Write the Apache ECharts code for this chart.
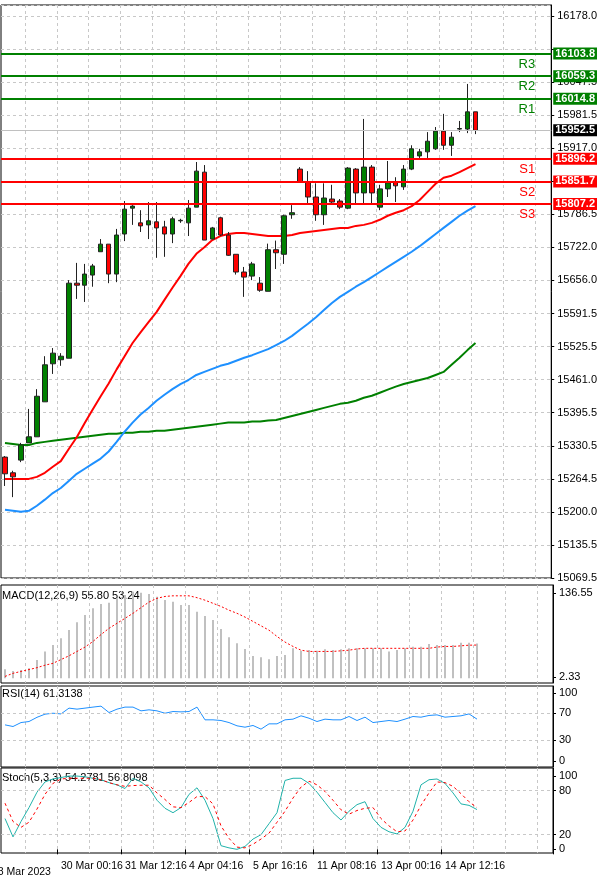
<!DOCTYPE html>
<html><head><meta charset="utf-8">
<script src="https://cdn.jsdelivr.net/npm/echarts@6/dist/echarts.min.js"></script>
<style>html,body{margin:0;padding:0;background:#fff}#c{width:600px;height:884px}</style>
</head><body><div id="c"></div>
<script>
// [open, close, low, high]
const candles = [
[15308,15275,15251,15310],[15277,15269,15229,15281],[15302,15332,15298,15336],[15336,15348,15336,15403],
[15348,15428,15348,15442],[15417,15490,15417,15507],[15492,15513,15472,15523],[15500,15507,15488,15513],
[15503,15651,15503,15657],[15651,15647,15620,15691],[15647,15669,15614,15689],[15667,15685,15644,15689],
[15713,15728,15713,15738],[15728,15669,15651,15728],[15669,15746,15653,15758],[15748,15797,15734,15813],
[15799,15803,15766,15805],[15770,15764,15752,15795],[15766,15774,15738,15811],[15772,15760,15701,15811],
[15762,15748,15703,15774],[15748,15778,15730,15782],[15774,15775,15770,15778],[15770,15799,15744,15815],
[15801,15872,15801,15890],[15870,15736,15736,15884],[15738,15760,15738,15762],[15780,15746,15744,15782],
[15746,15706,15705,15752],[15708,15673,15668,15708],[15673,15663,15624,15683],[15665,15689,15657,15693],
[15651,15637,15634,15663],[15635,15717,15635,15729],[15717,15711,15679,15735],[15708,15784,15689,15786],
[15786,15790,15778,15805],[15876,15851,15851,15880],[15851,15821,15807,15872],[15821,15786,15774,15848],
[15786,15819,15766,15848],[15817,15811,15807,15845],[15813,15801,15797,15817],[15799,15878,15797,15880],
[15876,15829,15809,15878],[15829,15880,15809,15975],[15880,15829,15809,15884],[15801,15837,15795,15845],
[15837,15849,15821,15892],[15851,15843,15811,15860],[15841,15876,15835,15884],[15876,15916,15874,15923],
[15902,15910,15898,15916],[15910,15931,15898,15949],[15916,15951,15914,15959],[15951,15923,15914,15985],
[15923,15939,15902,15949],[15955,15956,15949,15971],[15955,15989,15947,16044],[15989,15952.5,15945,15989]
];
const maRed = [15265,15265,15265,15265,15269,15277,15289,15300,15324,15347,
15375,15402,15428,15453,15481,15507,15533,15554,15574,15594,
15618,15642,15665,15689,15709,15722,15736,15744,15748,15750,
15750,15748,15746,15744,15744,15744,15746,15750,15752,15754,
15756,15758,15760,15760,15764,15766,15770,15776,15784,15790,
15795,15803,15815,15831,15847,15859,15863,15870,15878,15886];
const maBlue = [15204,15202,15200,15202,15212,15224,15237,15247,15261,15275,
15285,15295,15305,15319,15338,15358,15376,15392,15405,15419,
15431,15442,15452,15460,15470,15476,15482,15488,15492,15498,
15504,15509,15515,15521,15529,15537,15547,15559,15571,15584,
15598,15612,15624,15634,15644,15653,15663,15673,15683,15693,
15703,15713,15724,15736,15748,15760,15772,15784,15794,15803];
const maGreen = [15336,15334,15332,15332,15336,15338,15340,15342,15344,15346,
15348,15350,15352,15354,15354,15356,15356,15358,15358,15360,
15360,15362,15364,15366,15368,15370,15372,15374,15376,15376,
15376,15378,15378,15380,15381,15385,15389,15393,15397,15401,
15405,15409,15413,15415,15419,15425,15429,15435,15441,15447,
15452,15456,15460,15464,15470,15476,15490,15504,15519,15533];
const macdHist = [14.6,11.9,13.5,16.2,29.5,42.8,53.5,64.2,77.4,89.7,
101.4,112.1,119,121.1,128,133.4,138.6,137,135,130.6,
125.4,122.7,117.4,117.4,106.7,99.8,93.4,79,65.8,56.2,
47.1,35.9,33.8,30.6,35.9,37.5,48.2,44.3,45.5,44.3,
46.6,45.5,46.6,48.2,48.2,48.2,48.2,48.2,42.8,45.5,
48.2,50.7,50.7,55,53.5,53.5,53.5,57.1,57.1,55.8];
const macdSignal = [3,8,11,14,17,21,24,30,36,43,
50,59,70,80,88,96,104,113,122,128,
131,132,132,132,129,125,120,115,109,104,
98,91,84,77,67,58,51,45,43,43,
43,43,44,45,47,48,48,48,48,48,
48,48,48,48,50,51,51,52,53,53.24];
const rsi = [52.9,50.5,56.3,57.8,64,68.6,70,69,77.5,76,
77.5,79,80.4,71,76,79,79,73.5,75,73.5,
70,72.5,72,72.5,79,60.3,60.3,59.3,56.3,51.5,
49.5,52,46.6,54.4,54.4,60.3,61.3,66.2,62.7,57.8,
61.3,60.3,60.3,65.2,59.3,64.2,56.3,57.8,59.3,57.8,
61.3,65.2,64.2,66.7,67.6,64.2,65.2,66.2,69,61.3138];
const stochK = [42,17,38,57,78,92,96,98,100,100,
99,97,95,91,88,83,97,92,84,67,
56,50,57,75,84,67,42,5,2,0,
4,14,20,35,50,94,97,97,90,78,
64,50,40,52,61,65,42,30,24,21,
30,52,88,95,96,90,77,62,60,54.2781];
const stochD = [63,38,30,37,55,75,90,96,97,97,
97,97,95,91,88,86,87,87.5,87.5,77,
68,58,57,64,72,72,62,32,15,3,
2,7,14,22,37,52,70,85,93,88,
79,67,54,48,53,56,57,42,32,24,
25,40,60,77,92,91,86,76,65,56.8098];
const yLabels = [16178.0,16112.5,16047.5,15981.5,15917.0,15851.5,15786.5,15722.0,15656.0,15591.5,15525.5,15461.0,15395.5,15330.5,15264.5,15200.0,15135.5,15069.5];
const hiddenY = [16112.5,15851.5];
const resLevels = [['R3',16103.8],['R2',16059.3],['R1',16014.8]];
const supLevels = [['S1',15896.2],['S2',15851.7],['S3',15807.2]];
const lastPrice = 15952.5;
const xLabelIdx = [7,15,23,31,39,47,55];
const xLabels = ['30 Mar 00:16','31 Mar 12:16','4 Apr 04:16','5 Apr 16:16','11 Apr 08:16','13 Apr 00:16','14 Apr 12:16'];
const firstDate = '28 Mar 2023';
const slots = 69;

const cats = Array.from({length: slots}, (_, i) => String(i));
const F = 'Liberation Sans';
const grids = [
  {left:1, width:552, top:5, height:573},
  {left:1, width:552, top:585, height:98},
  {left:1, width:552, top:686, height:81},
  {left:1, width:552, top:768, height:85}
].map(g => Object.assign(g, {show:true, borderColor:'#000', borderWidth:1}));
const vSplit = {show:true, interval:(i)=>i%4===3, lineStyle:{color:'#c8c8c8', type:[3,3]}};
const xAxes = grids.map((g, k) => ({
  type:'category', gridIndex:k, data:cats, boundaryGap:true,
  axisLine:{show:false}, splitLine:vSplit,
  axisTick:{show:k===3, interval:(i)=>xLabelIdx.includes(i), length:5, lineStyle:{color:'#000'}},
  axisLabel:{show:k===3, interval:0, hideOverlap:false,
    formatter:(v)=>{const j=xLabelIdx.indexOf(Number(v)); return j<0?'':xLabels[j];},
    align:'left', fontFamily:F, fontSize:10.5, color:'#000', margin:8}
}));
const yMain = {
  type:'value', gridIndex:0, position:'right', min:15069.5, max:15069.5+573*1.9724, interval:(16178-15069.5)/17,
  axisLine:{show:true, lineStyle:{color:'#000'}}, axisTick:{show:true, length:3},
  splitLine:{show:true, lineStyle:{color:'#c8c8c8', type:[3,3]}},
  axisLabel:{showMaxLabel:false, fontFamily:F, fontSize:11, color:'#000', margin:6,
    formatter:(v)=>{let b=yLabels.reduce((a,c)=>Math.abs(c-v)<Math.abs(a-v)?c:a); if(Math.abs(b-v)>20||hiddenY.includes(b))return ''; return b.toFixed(1);}}
};
function subY(k, min, max, vals, fmt){
  return {type:'value', gridIndex:k, position:'right', min, max,
    axisLine:{show:true, lineStyle:{color:'#000'}}, splitLine:{show:false},
    axisTick:{show:true, length:3, customValues:vals},
    axisLabel:{customValues:vals, fontFamily:F, fontSize:11, color:'#000', margin:6, formatter:fmt}};
}
const yAxes = [yMain,
  subY(1, -7.5, 149.3, [136.55, 2.33], v=>v.toFixed(2)),
  subY(2, -9, 110, [0,30,70,100], v=>String(v)),
  subY(3, -5, 111, [0,20,80,100], v=>String(v))];

const tag = (v, bg) => ({show:true, position:'end', formatter:v.toFixed(1), color:'#fff', backgroundColor:bg,
  fontFamily:F, fontSize:11, fontWeight:'bold', padding:[1,2,0,2], distance:2});
const lvl = (arr, col) => arr.flatMap(([n,v]) => [
  {yAxis:v, lineStyle:{color:col, width:2, type:'solid'},
   label:{show:true, position:'insideEndBottom', formatter:n, color:col, fontFamily:F, fontSize:13, distance:[16,4]}},
  {yAxis:v, lineStyle:{color:col, width:2, type:'solid'}, label:tag(v, col)}
]);
const mlData = [
  {yAxis:lastPrice, lineStyle:{color:'#c0c0c0', width:1, type:'solid'}, label:tag(lastPrice, '#000')},
  ...lvl(resLevels, '#008000'), ...lvl(supLevels, '#ff0000')
];
const line = (name, xi, data, color, w, type) => ({type:'line', name, xAxisIndex:xi, yAxisIndex:xi, data, symbol:'none',
  lineStyle:{color, width:w, type:type||'solid'}, silent:true, animation:false, z:3});
const hLine = (vals) => ({symbol:'none', silent:true, data: vals.map(v=>({yAxis:v})), label:{show:false},
  lineStyle:{color:'#c8c8c8', type:[3,3], width:1}});

const rsiS = line('RSI', 2, rsi, '#1e90ff', 1); rsiS.markLine = hLine([70,30]);
const kS = line('K', 3, stochK, '#20b2aa', 1); kS.markLine = hLine([80,20]);

const option = {
  animation:false,
  grid:grids, xAxis:xAxes, yAxis:yAxes,
  series:[
    line('MA100', 0, maGreen, '#008000', 2),
    line('MA50', 0, maBlue, '#1e90ff', 2),
    line('MA20', 0, maRed, '#ff0000', 2),
    {type:'candlestick', xAxisIndex:0, yAxisIndex:0, data:candles, barWidth:5, z:4,
     itemStyle:{color:'#008000', color0:'#ff0000', borderColor:'#222', borderColor0:'#222', borderWidth:1},
     markLine:{symbol:'none', silent:true, animation:false, data:mlData}},
    {type:'bar', xAxisIndex:1, yAxisIndex:1, data:macdHist, barWidth:2, itemStyle:{color:'#c0c0c0'}, silent:true},
    line('Signal', 1, macdSignal, '#ff0000', 1, [2,2]),
    rsiS, kS,
    line('D', 3, stochD, '#ff0000', 1, [3,3])
  ],
  graphic:[
    {type:'text', left:2, top:590, style:{text:'MACD(12,26,9) 55.80 53.24', font:'11px "Liberation Sans"', fill:'#000'}},
    {type:'text', left:2, top:688, style:{text:'RSI(14) 61.3138', font:'11px "Liberation Sans"', fill:'#000'}},
    {type:'text', left:2, top:772, style:{text:'Stoch(5,3,3) 54.2781 56.8098', font:'11px "Liberation Sans"', fill:'#000'}},
    {type:'text', left:-8, top:867, style:{text:firstDate, font:'10.5px "Liberation Sans"', fill:'#000'}}
  ]
};
echarts.init(document.getElementById('c')).setOption(option);
</script></body></html>
